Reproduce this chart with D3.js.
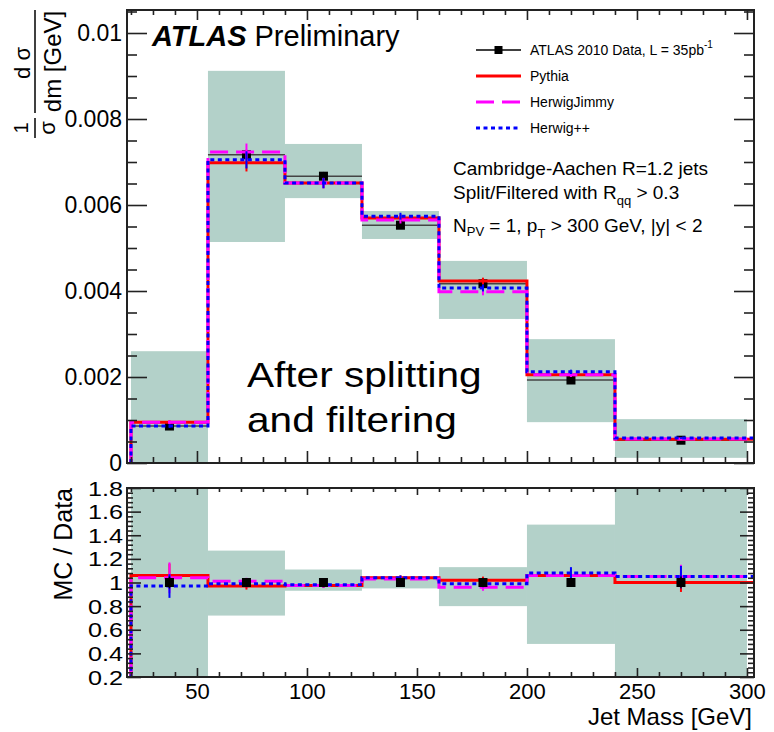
<!DOCTYPE html>
<html>
<head>
<meta charset="utf-8">
<script src="https://cdn.jsdelivr.net/npm/d3@7"></script>
<style>
  body { margin: 0; background: #fff; }
  svg { display: block; }
  text { font-family: "Liberation Sans", Arial, Helvetica, sans-serif; fill: #000; }
</style>
</head>
<body>
<svg id="chart" width="774" height="732"></svg>
<script>
// Jet mass bins [GeV]
const binEdges = [20, 55, 90, 125, 160, 200, 240, 300];

// 1/sigma dsigma/dm, data and systematic band
const dataValues   = [0.00086, 0.00717, 0.00667, 0.00553, 0.00417, 0.00193, 0.00053];
const dataStatErr  = [0.00004, 0.00012, 0.00010, 0.00008, 0.00006, 0.00004, 0.00002];
const bandLow      = [0.00000, 0.00514, 0.00616, 0.00521, 0.00335, 0.00095, 0.00012];
const bandHigh     = [0.00260, 0.00912, 0.00742, 0.00586, 0.00470, 0.00288, 0.00102];

// Monte Carlo predictions
const pythiaValues = [0.00095, 0.00698, 0.00651, 0.00570, 0.00423, 0.00205, 0.00055];
const jimmyValues  = [0.00095, 0.00723, 0.00651, 0.00565, 0.00398, 0.00205, 0.00056];
const hppValues    = [0.00086, 0.00705, 0.00651, 0.00574, 0.00407, 0.00212, 0.00058];
const pythiaErr    = [0.00004, 0.00020, 0.00012, 0.00008, 0.00008, 0.00005, 0.00002];
const jimmyErr     = [0.00004, 0.00020, 0.00012, 0.00008, 0.00008, 0.00005, 0.00002];
const hppErr       = [0.00004, 0.00020, 0.00012, 0.00008, 0.00008, 0.00005, 0.00002];

// MC / Data ratio panel
const ratioPythia    = [1.06, 0.97, 0.975, 1.04, 1.02, 1.06, 1.00];
const ratioJimmy     = [1.04, 1.01, 0.975, 1.03, 0.96, 1.06, 1.05];
const ratioHpp       = [0.97, 0.99, 0.98, 1.04, 0.99, 1.08, 1.05];
const ratioPythiaErr = [0.10, 0.03, 0.02, 0.02, 0.03, 0.05, 0.08];
const ratioJimmyErr  = [0.13, 0.03, 0.02, 0.02, 0.03, 0.05, 0.10];
const ratioHppErr    = [0.10, 0.03, 0.02, 0.02, 0.03, 0.05, 0.09];
const ratioDataErr   = [0.05, 0.02, 0.02, 0.02, 0.02, 0.03, 0.05];
const ratioBandLow   = [0.00, 0.72, 0.93, 0.95, 0.80, 0.48, 0.00];
const ratioBandHigh  = [3.00, 1.27, 1.11, 1.05, 1.13, 1.49, 3.00];

// Tick labels
const topTickValues   = [0, 0.002, 0.004, 0.006, 0.008, 0.01];
const topTickLabels   = ["0", "0.002", "0.004", "0.006", "0.008", "0.01"];
const ratioTickValues = [0.2, 0.4, 0.6, 0.8, 1.0, 1.2, 1.4, 1.6, 1.8];
const ratioTickLabels = ["0.2", "0.4", "0.6", "0.8", "1", "1.2", "1.4", "1.6", "1.8"];
const massTickValues  = [50, 100, 150, 200, 250, 300];
const massTickLabels  = ["50", "100", "150", "200", "250", "300"];

const legendLabels = ["ATLAS 2010 Data, L = 35pb", "Pythia", "HerwigJimmy", "Herwig++"];

// ---------------------------------------------------------------
const svg = d3.select("#chart");
const left = 127, right = 754;
const topPanel = { top: 10, bottom: 463 };
const ratioPanel = { top: 488, bottom: 677 };

const COL = { band: "#b3d1c9", axis: "#222", pythia: "#ff0000", jimmy: "#ff00ff", hpp: "#0000ff", data: "#000" };
const mcStyles = [
  { key: "pythia", color: COL.pythia, dash: null },
  { key: "jimmy",  color: COL.jimmy,  dash: "18,8" },
  { key: "hpp",    color: COL.hpp,    dash: "4,3.5" }
];

const x = d3.scaleLinear().domain([18.2, 303.2]).range([left, right]);
const yTop = d3.scaleLinear().domain([0, 0.010535]).range([topPanel.bottom, topPanel.top]);
const yRatio = d3.scaleLinear().domain([0.2, 1.8]).range([ratioPanel.bottom, ratioPanel.top]);

const nBins = dataValues.length;
const bins = d3.range(nBins).map(i => ({ lo: binEdges[i], hi: binEdges[i + 1], mid: (binEdges[i] + binEdges[i + 1]) / 2 }));

const defs = svg.append("defs");
defs.append("clipPath").attr("id", "clipTop").append("rect")
  .attr("x", left).attr("y", topPanel.top).attr("width", right - left).attr("height", topPanel.bottom - topPanel.top);
defs.append("clipPath").attr("id", "clipRatio").append("rect")
  .attr("x", left).attr("y", ratioPanel.top).attr("width", right - left).attr("height", ratioPanel.bottom - ratioPanel.top);

// step-histogram path starting from zero, last bin runs to the axis end
function stepPath(values, yScale) {
  const pts = [[x(binEdges[0]), yScale(0)]];
  values.forEach((v, i) => {
    const hi = i === values.length - 1 ? x.domain()[1] : binEdges[i + 1];
    pts.push([x(binEdges[i]), yScale(v)]);
    pts.push([x(hi), yScale(v)]);
  });
  return d3.line()(pts);
}

// ---------------- Top panel ----------------
const gTop = svg.append("g").attr("clip-path", "url(#clipTop)");

gTop.selectAll("rect.band").data(bins).join("rect")
  .attr("class", "band")
  .attr("x", d => x(d.lo)).attr("width", d => x(d.hi) - x(d.lo))
  .attr("y", (d, i) => yTop(bandHigh[i]))
  .attr("height", (d, i) => yTop(bandLow[i]) - yTop(bandHigh[i]))
  .attr("fill", COL.band);

// data horizontal bars and stat errors
gTop.selectAll("line.dataH").data(bins).join("line")
  .attr("x1", d => x(d.lo)).attr("x2", d => x(d.hi))
  .attr("y1", (d, i) => yTop(dataValues[i])).attr("y2", (d, i) => yTop(dataValues[i]))
  .attr("stroke", "#444").attr("stroke-width", 1.5);
gTop.selectAll("line.dataV").data(bins).join("line")
  .attr("x1", d => x(d.mid)).attr("x2", d => x(d.mid))
  .attr("y1", (d, i) => yTop(dataValues[i] - dataStatErr[i])).attr("y2", (d, i) => yTop(dataValues[i] + dataStatErr[i]))
  .attr("stroke", "#444").attr("stroke-width", 1.5);
gTop.selectAll("rect.dataM").data(bins).join("rect")
  .attr("x", d => x(d.mid) - 4.5).attr("y", (d, i) => yTop(dataValues[i]) - 4.5)
  .attr("width", 9).attr("height", 9).attr("fill", COL.data);

const topMC = { pythia: [pythiaValues, pythiaErr], jimmy: [jimmyValues, jimmyErr], hpp: [hppValues, hppErr] };
mcStyles.forEach(s => {
  const [vals, errs] = topMC[s.key];
  gTop.append("path").attr("d", stepPath(vals, yTop))
    .attr("fill", "none").attr("stroke", s.color).attr("stroke-width", 3)
    .attr("stroke-dasharray", s.dash);
  gTop.selectAll("line.err-" + s.key).data(bins).join("line")
    .attr("x1", d => x(d.mid)).attr("x2", d => x(d.mid))
    .attr("y1", (d, i) => yTop(vals[i] - errs[i])).attr("y2", (d, i) => yTop(vals[i] + errs[i]))
    .attr("stroke", s.color).attr("stroke-width", 2);
});

// ---------------- Ratio panel ----------------
const gRatio = svg.append("g").attr("clip-path", "url(#clipRatio)");
gRatio.selectAll("rect.band").data(bins).join("rect")
  .attr("x", d => x(d.lo)).attr("width", d => x(d.hi) - x(d.lo))
  .attr("y", (d, i) => yRatio(ratioBandHigh[i]))
  .attr("height", (d, i) => yRatio(ratioBandLow[i]) - yRatio(ratioBandHigh[i]))
  .attr("fill", COL.band);

const ratioMC = { pythia: [ratioPythia, ratioPythiaErr], jimmy: [ratioJimmy, ratioJimmyErr], hpp: [ratioHpp, ratioHppErr] };
mcStyles.forEach(s => {
  const [vals, errs] = ratioMC[s.key];
  gRatio.append("path").attr("d", stepPath(vals, yRatio))
    .attr("fill", "none").attr("stroke", s.color).attr("stroke-width", 3)
    .attr("stroke-dasharray", s.dash);
  gRatio.selectAll("line.err-" + s.key).data(bins).join("line")
    .attr("x1", d => x(d.mid)).attr("x2", d => x(d.mid))
    .attr("y1", (d, i) => yRatio(vals[i] - errs[i])).attr("y2", (d, i) => yRatio(vals[i] + errs[i]))
    .attr("stroke", s.color).attr("stroke-width", 2);
});
gRatio.selectAll("line.dataV").data(bins).join("line")
  .attr("x1", d => x(d.mid)).attr("x2", d => x(d.mid))
  .attr("y1", (d, i) => yRatio(1 - ratioDataErr[i])).attr("y2", (d, i) => yRatio(1 + ratioDataErr[i]))
  .attr("stroke", "#000").attr("stroke-width", 1.5);
gRatio.selectAll("rect.dataM").data(bins).join("rect")
  .attr("x", d => x(d.mid) - 4.5).attr("y", yRatio(1) - 4.5)
  .attr("width", 9).attr("height", 9).attr("fill", COL.data);

// ---------------- Axes ----------------
function styleAxis(g) {
  g.select(".domain").remove();
  g.selectAll(".tick line").attr("stroke", COL.axis).attr("stroke-width", 1.6);
  g.selectAll(".tick text").attr("fill", "#000").attr("font-family", '"Liberation Sans", Arial, sans-serif');
}
function minorValues(lo, hi, step, majors) {
  const out = [];
  for (let v = lo; v <= hi + 1e-12; v += step) {
    const r = Math.round(v / step) * step;
    if (!majors.some(m => Math.abs(m - r) < step / 10)) out.push(r);
  }
  return out;
}

// top panel y axis
const topMinor = minorValues(0, 0.0105, 0.0005, topTickValues);
svg.append("g").attr("transform", `translate(${left},0)`)
  .call(d3.axisLeft(yTop).tickValues(topTickValues).tickSize(-20).tickPadding(5)
    .tickFormat((d, i) => topTickLabels[i]))
  .call(styleAxis)
  .call(g => g.selectAll(".tick text").attr("font-size", 23));
svg.append("g").attr("transform", `translate(${left},0)`)
  .call(d3.axisLeft(yTop).tickValues(topMinor).tickSize(-10).tickFormat("")).call(styleAxis);
svg.append("g").attr("transform", `translate(${right},0)`)
  .call(d3.axisRight(yTop).tickValues(topTickValues).tickSize(-20).tickFormat("")).call(styleAxis);
svg.append("g").attr("transform", `translate(${right},0)`)
  .call(d3.axisRight(yTop).tickValues(topMinor).tickSize(-10).tickFormat("")).call(styleAxis);

// mass ticks on both panels
const massMinor = minorValues(20, 300, 10, massTickValues);
function massTicks(yPos, dir, majorLen, minorLen) {
  const ax = dir === "up" ? d3.axisBottom(x) : d3.axisTop(x);
  svg.append("g").attr("transform", `translate(0,${yPos})`)
    .call(ax.tickValues(massTickValues).tickSize(-majorLen).tickFormat("")).call(styleAxis);
  svg.append("g").attr("transform", `translate(0,${yPos})`)
    .call(ax.tickValues(massMinor).tickSize(-minorLen).tickFormat("")).call(styleAxis);
}
massTicks(topPanel.bottom, "up", 12, 6);
massTicks(topPanel.top, "down", 10, 5);
massTicks(ratioPanel.top, "down", 7, 4);

// ratio panel x axis with labels
svg.append("g").attr("transform", `translate(0,${ratioPanel.bottom})`)
  .call(d3.axisBottom(x).tickValues(massTickValues).tickSize(-9).tickPadding(6)
    .tickFormat((d, i) => massTickLabels[i]))
  .call(styleAxis)
  .call(g => g.selectAll(".tick text").attr("font-size", 22).attr("dy", "0.71em"));
svg.append("g").attr("transform", `translate(0,${ratioPanel.bottom})`)
  .call(d3.axisBottom(x).tickValues(massMinor).tickSize(-5).tickFormat("")).call(styleAxis);

// ratio panel y axes
const ratioMinor = minorValues(0.2, 1.8, 0.04, ratioTickValues);
svg.append("g").attr("transform", `translate(${left},0)`)
  .call(d3.axisLeft(yRatio).tickValues(ratioTickValues).tickSize(-14).tickFormat(""))
  .call(styleAxis);
svg.append("g").attr("transform", `translate(${left},0)`)
  .call(d3.axisLeft(yRatio).tickValues(ratioMinor).tickSize(-6).tickFormat("")).call(styleAxis);
svg.append("g").attr("transform", `translate(${right},0)`)
  .call(d3.axisRight(yRatio).tickValues(ratioTickValues).tickSize(-14).tickFormat("")).call(styleAxis);
svg.append("g").attr("transform", `translate(${right},0)`)
  .call(d3.axisRight(yRatio).tickValues(ratioMinor).tickSize(-6).tickFormat("")).call(styleAxis);
svg.append("g").selectAll("text").data(ratioTickValues).join("text")
  .attr("transform", d => `translate(${left - 4},${yRatio(d)}) scale(1.2,1)`)
  .attr("text-anchor", "end").attr("dy", "0.36em").attr("font-size", 21)
  .text((d, i) => ratioTickLabels[i]);

// frames
[topPanel, ratioPanel].forEach(p => {
  svg.append("rect").attr("x", left).attr("y", p.top)
    .attr("width", right - left).attr("height", p.bottom - p.top)
    .attr("fill", "none").attr("stroke", COL.axis).attr("stroke-width", 2);
});

// ---------------- Titles ----------------
svg.append("text").attr("x", right - 2).attr("y", 725).attr("text-anchor", "end")
  .attr("font-size", 24).text("Jet Mass [GeV]");
svg.append("text").attr("transform", `translate(72,${ratioPanel.top}) rotate(-90)`)
  .attr("text-anchor", "end").attr("font-size", 25).text("MC / Data");

// 1/sigma dsigma/dm [GeV]
const yl = svg.append("g");
yl.append("text").attr("transform", "translate(28,128) rotate(-90)").attr("text-anchor", "middle")
  .attr("font-size", 20).text("1");
yl.append("line").attr("x1", 35).attr("x2", 35).attr("y1", 118).attr("y2", 138)
  .attr("stroke", "#000").attr("stroke-width", 1.5);
yl.append("text").attr("transform", "translate(55,128) rotate(-90)").attr("text-anchor", "middle")
  .attr("font-size", 22).text("σ");
yl.append("text").attr("transform", "translate(30,63) rotate(-90)").attr("text-anchor", "middle")
  .attr("font-size", 22).text("d σ");
yl.append("line").attr("x1", 35).attr("x2", 35).attr("y1", 10).attr("y2", 113)
  .attr("stroke", "#000").attr("stroke-width", 1.5);
yl.append("text").attr("transform", "translate(61,61.5) rotate(-90)").attr("text-anchor", "middle")
  .attr("font-size", 24).text("dm [GeV]");

// ATLAS label
const atlas = svg.append("text").attr("x", 152).attr("y", 46).attr("font-size", 29);
atlas.append("tspan").attr("font-weight", "bold").attr("font-style", "italic").text("ATLAS");
atlas.append("tspan").attr("dx", 8).text("Preliminary");

// Legend
const legendY = [50, 76, 102, 128];
const lg = svg.append("g");
const lx0 = 476, lx1 = 521;
lg.append("line").attr("x1", lx0).attr("x2", lx1).attr("y1", legendY[0]).attr("y2", legendY[0])
  .attr("stroke", "#000").attr("stroke-width", 1.5);
lg.append("rect").attr("x", (lx0 + lx1) / 2 - 4).attr("y", legendY[0] - 4).attr("width", 8).attr("height", 8).attr("fill", "#000");
mcStyles.forEach((s, i) => {
  lg.append("line").attr("x1", lx0).attr("x2", lx1).attr("y1", legendY[i + 1]).attr("y2", legendY[i + 1])
    .attr("stroke", s.color).attr("stroke-width", 3).attr("stroke-dasharray", s.dash);
});
legendLabels.forEach((t, i) => {
  const tx = lg.append("text").attr("x", 530).attr("y", legendY[i]).attr("dy", "0.36em").attr("font-size", 14).text(t);
  if (i === 0) tx.append("tspan").attr("font-size", 10).attr("dy", "-0.75em").text("-1");
});

// Selection description
const info = svg.append("g").attr("font-size", 19);
info.append("text").attr("x", 453).attr("y", 175).text("Cambridge-Aachen R=1.2 jets");
const l2 = info.append("text").attr("x", 453).attr("y", 199);
l2.append("tspan").text("Split/Filtered with R");
l2.append("tspan").attr("font-size", 13).attr("dy", 6).text("qq");
l2.append("tspan").attr("dy", -6).text(" > 0.3");
const l3 = info.append("text").attr("x", 453).attr("y", 232);
l3.append("tspan").text("N");
l3.append("tspan").attr("font-size", 13).attr("dy", 4).text("PV");
l3.append("tspan").attr("dy", -4).text(" = 1, p");
l3.append("tspan").attr("font-size", 13).attr("dy", 6).text("T");
l3.append("tspan").attr("dy", -6).text(" > 300 GeV, |y| < 2");

// Big annotation
const big = svg.append("g").attr("font-size", 35).attr("font-family", "Lato, 'Open Sans', sans-serif");
big.append("text").attr("transform", "translate(247,387) scale(1.16,1)").text("After splitting");
big.append("text").attr("transform", "translate(247,432) scale(1.16,1)").text("and filtering");
</script>
</body>
</html>
